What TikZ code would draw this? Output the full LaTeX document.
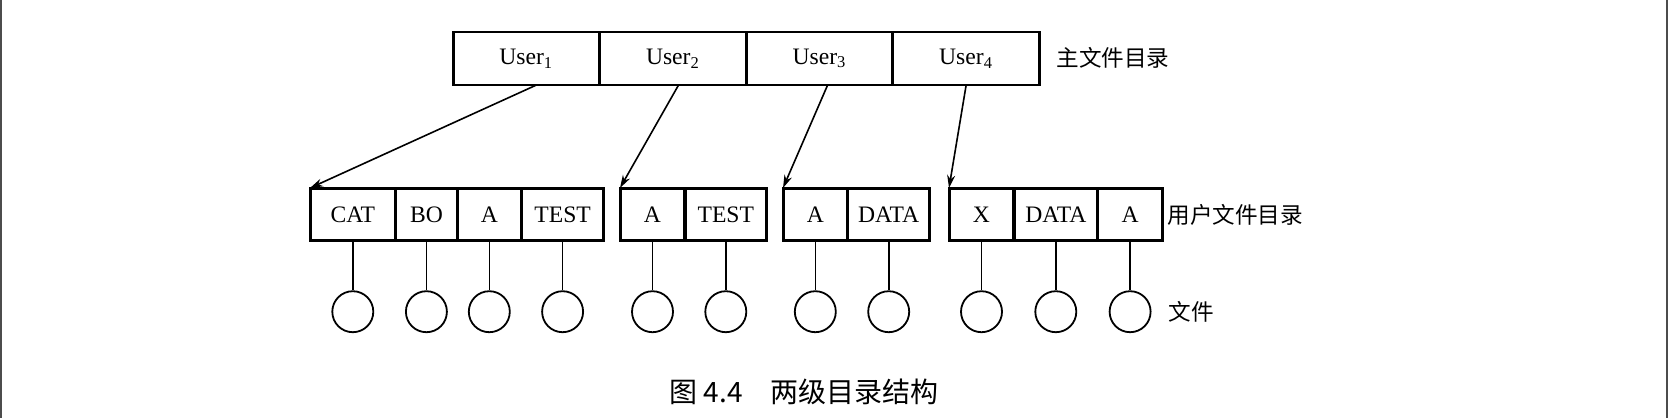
\documentclass[tikz,border=0pt]{standalone}
\usepackage{fontspec}
\setmainfont{Liberation Serif}
\newfontfamily\cjk{Noto Sans CJK SC}
\usetikzlibrary{arrows.meta}

\tikzset{
  cell/.style={draw, line width=0.8pt, minimum height=25.5pt, inner sep=0pt, anchor=north west, font=\fontsize{11.8}{13}\selectfont},
  maincell/.style={cell, minimum width=72.5pt, minimum height=26pt},
  file/.style={draw, circle, line width=0.9pt, minimum size=20.5pt, inner sep=0pt},
  ptr/.style={line width=0.8pt, -{Stealth[length=6.5pt,width=4pt]}},
  lbl/.style={anchor=west, inner sep=0pt, font=\cjk\fontsize{11.3}{13}\selectfont},
}

\begin{document}
\begin{tikzpicture}[x=0.5pt,y=0.5pt,yscale=-1,xscale=1]
    \useasboundingbox (0,0) rectangle (1668,418);

    %page edges
    \draw [line width=1pt, gray!60!black] (1,0) -- (1,418) (1667,0) -- (1667,418);

    %Main directory
    \node [maincell] (m1) at (453,31.7) {User\textsubscript{1}};
    \node [maincell] (m2) at (m1.north east) {User\textsubscript{2}};
    \node [maincell] (m3) at (m2.north east) {User\textsubscript{3}};
    \node [maincell] (m4) at (m3.north east) {User\textsubscript{4}};
    \draw [line width=1.1pt] (m1.north west) rectangle (m4.south east);

    %User directories
    \node [cell, minimum width=42pt] (c11) at (310,188) {CAT};
    \node [cell, minimum width=30pt] (c12) at (c11.north east) {BO};
    \node [cell, minimum width=31.3pt] (c13) at (c12.north east) {A};
    \node [cell, minimum width=40.4pt] (c14) at (c13.north east) {TEST};
    \draw [line width=1.1pt] (c11.north west) rectangle (c14.south east);

    \node [cell, minimum width=31.7pt] (c21) at (620,188) {A};
    \node [cell, minimum width=40pt] (c22) at (c21.north east) {TEST};
    \draw [line width=1.1pt] (c21.north west) rectangle (c22.south east);

    \node [cell, minimum width=31.5pt] (c31) at (783,188) {A};
    \node [cell, minimum width=40.3pt] (c32) at (c31.north east) {DATA};
    \draw [line width=1.1pt] (c31.north west) rectangle (c32.south east);

    \node [cell, minimum width=31.7pt] (c41) at (949,188) {X};
    \node [cell, minimum width=41pt] (c42) at (c41.north east) {DATA};
    \node [cell, minimum width=31.7pt] (c43) at (c42.north east) {A};
    \draw [line width=1.1pt] (c41.north west) rectangle (c43.south east);

    %Pointers
    \draw [ptr] ([xshift=4.75pt]m1.south) -- (c11.north west);
    \draw [ptr] ([xshift=2.75pt]m2.south) -- (c21.north west);
    \draw [ptr] ([xshift=4pt]m3.south) -- (c31.north west);
    \draw [ptr] (m4.south) -- (c41.north west);

    %Files
    \foreach \c in {11,12,13,14,21,22,31,32,41,42,43} {
      \node [file] (f\c) at (c\c |- 0,311.7) {};
      \draw [line width=0.8pt] (c\c) -- (f\c);
    }

    % Text Node
    \node [lbl] (mainlbl) at (1056,58) {主文件目录};
    % Text Node
    \node [lbl] (userlbl) at (1167,215) {用户文件目录};
    % Text Node
    \node [lbl] (filelbl) at (1168,312) {文件};
    % Text Node
    \node [font=\cjk\fontsize{14}{16}\selectfont] (caption) at (804,392) {图 4.4\hspace{1em}两级目录结构};
\end{tikzpicture}
\end{document}
